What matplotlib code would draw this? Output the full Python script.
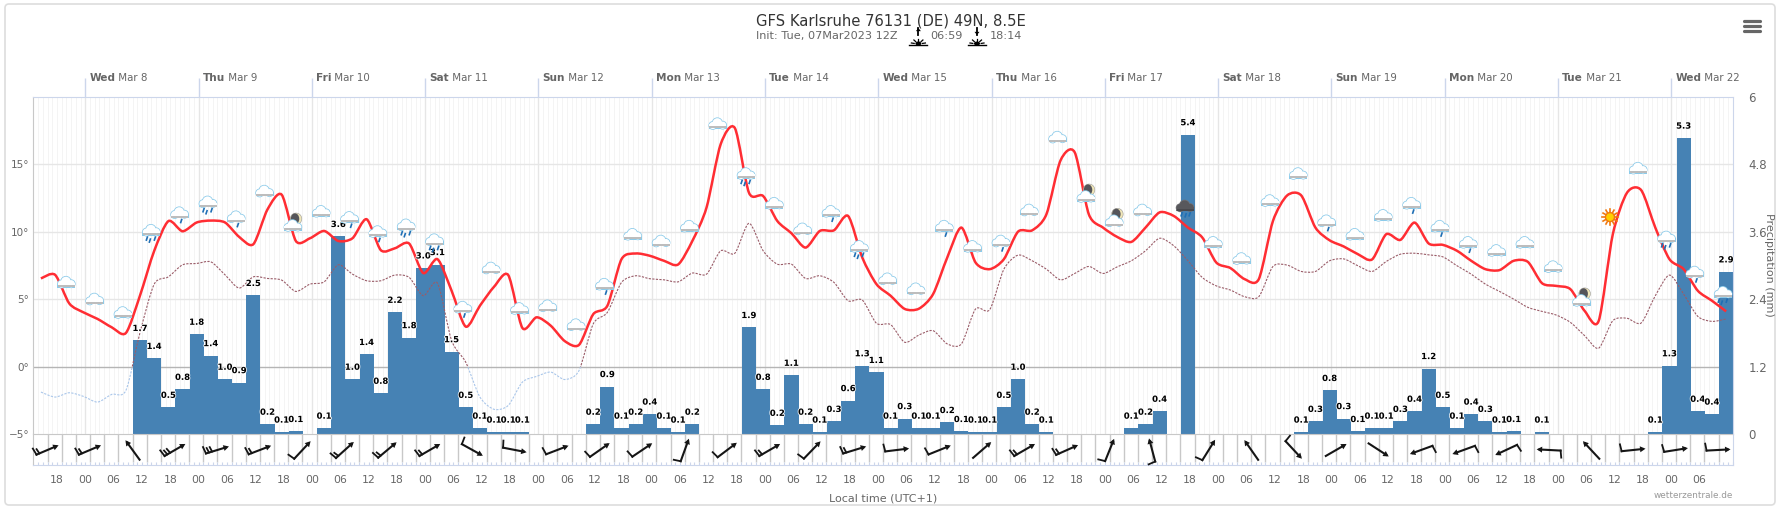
import matplotlib
matplotlib.use("Agg")
import matplotlib.pyplot as plt
import matplotlib.patheffects as pe
import numpy as np
from matplotlib.lines import Line2D
from matplotlib.patches import Circle, Ellipse, FancyBboxPatch, PathPatch, Polygon, Rectangle
from matplotlib.path import Path
from matplotlib.transforms import Affine2D, IdentityTransform

W, H = 1777, 509

# x axis is hours since Wed Mar 8 00:00 local time
XMIN, XMAX = -11.08, 349.06
day_names = ["Wed", "Thu", "Fri", "Sat", "Sun", "Mon", "Tue", "Wed", "Thu", "Fri", "Sat", "Sun", "Mon", "Tue", "Wed"]
day_dates = ["Mar 8", "Mar 9", "Mar 10", "Mar 11", "Mar 12", "Mar 13", "Mar 14", "Mar 15", "Mar 16", "Mar 17",
             "Mar 18", "Mar 19", "Mar 20", "Mar 21", "Mar 22"]
hour_labels = ["18", "00", "06", "12"]

# temperature 2m, every 3h from hour -9.4
temp_2m = [6.55, 6.82, 4.7, 4.04, 3.55, 2.93, 2.51, 5.3, 8.6, 10.8, 10.05, 10.7, 10.84, 10.7, 9.63, 9.09,
           11.67, 12.76, 9.33, 9.53, 10.07, 9.33, 9.53, 10.94, 8.65, 8.79, 9.14, 6.95, 7.98, 5.64, 2.98, 4.53,
           5.94, 6.8, 2.88, 3.67, 3.05, 1.9, 1.63, 3.9, 4.53, 7.98, 8.4, 8.23, 7.86, 7.59, 9.33, 11.8,
           16.5, 17.7, 12.9, 12.66, 10.81, 9.9, 8.84, 10.07, 10.12, 11.18, 8.1, 6.13, 5.27, 4.29, 4.31, 5.39,
           8.1, 10.32, 7.73, 7.24, 7.98, 10.02, 10.12, 11.3, 15.3, 15.9, 11.3, 10.32, 9.63, 9.26, 10.32, 11.45,
           11.18, 10.32, 9.6, 7.73, 7.32, 6.5, 6.5, 10.81, 12.7, 12.7, 10.32, 9.38, 8.92, 8.35, 7.96, 9.83,
           9.41, 10.69, 9.14, 9.04, 8.6, 7.86, 7.24, 7.17, 7.86, 7.78, 6.2, 6.0, 5.76, 4.16, 3.4, 9.83,
           12.9, 13.1, 10.32, 7.98, 7.24, 5.64, 4.9, 4.11]

# temperature 850 hPa, same hours
temp_850 = [-1.87, -2.24, -1.92, -2.19, -2.61, -2.04, -1.75, 2.56, 6.13, 6.67, 7.56, 7.66, 7.78, 6.82, 5.84, 6.67,
            6.55, 6.43, 5.59, 6.13, 6.3, 7.56, 6.87, 6.38, 6.38, 6.8, 6.63, 5.27, 6.2, 1.95, 0.34, -2.24,
            -3.15, -2.86, -1.13, -0.71, -0.39, -0.94, -0.27, 3.18, 4.04, 6.26, 6.75, 6.53, 6.45, 6.3, 6.95, 6.87,
            8.6, 8.42, 10.64, 8.6, 7.61, 7.61, 6.55, 6.75, 6.26, 4.9, 4.95, 3.23, 3.13, 1.82, 2.36, 2.68,
            1.7, 1.7, 4.29, 4.24, 7.24, 8.28, 7.86, 7.24, 6.45, 6.92, 7.44, 6.92, 7.41, 7.86, 8.6, 9.53,
            8.97, 7.86, 6.63, 6.0, 5.69, 5.2, 5.2, 7.44, 7.54, 7.07, 7.07, 7.86, 8.0, 7.49, 7.07, 7.81,
            8.35, 8.42, 8.3, 8.15, 7.49, 6.87, 6.13, 5.59, 5.02, 4.41, 4.11, 3.84, 3.3, 2.32, 1.38, 3.42,
            3.6, 3.25, 5.27, 6.8, 5.39, 3.74, 3.37, 3.55]

# precipitation per 3h, first bar at hour 11.6
precip = [1.67, 1.35, 0.48, 0.80, 1.78, 1.40, 0.98, 0.92, 2.47, 0.18, 0.04, 0.05, 0, 0.11, 3.52, 0.98,
          1.42, 0.73, 2.17, 1.72, 2.96, 3.02, 1.47, 0.48, 0.11, 0.04, 0.04, 0.04, 0, 0, 0, 0,
          0.18, 0.85, 0.11, 0.18, 0.36, 0.11, 0.04, 0.18, 0, 0, 0, 1.90, 0.80, 0.16, 1.05, 0.18,
          0.04, 0.23, 0.60, 1.22, 1.10, 0.11, 0.28, 0.11, 0.11, 0.21, 0.05, 0.04, 0.04, 0.48, 0.98, 0.18,
          0.04, 0, 0, 0, 0, 0, 0.11, 0.18, 0.41, 0, 5.33, 0, 0, 0, 0, 0,
          0, 0, 0.04, 0.23, 0.78, 0.28, 0.05, 0.11, 0.11, 0.23, 0.41, 1.17, 0.48, 0.11, 0.36, 0.23,
          0.04, 0.05, 0, 0.04, 0, 0, 0, 0, 0, 0, 0, 0.04, 1.22, 5.27, 0.41, 0.36, 2.89]
precip_labels = ["1.7", "1.4", "0.5", "0.8", "1.8", "1.4", "1.0", "0.9", "2.5", "0.2", "0.1", "0.1", "", "0.1", "3.6", "1.0",
                 "1.4", "0.8", "2.2", "1.8", "3.0", "3.1", "1.5", "0.5", "0.1", "0.1", "0.1", "0.1", "", "", "", "",
                 "0.2", "0.9", "0.1", "0.2", "0.4", "0.1", "0.1", "0.2", "", "", "", "1.9", "0.8", "0.2", "1.1", "0.2",
                 "0.1", "0.3", "0.6", "1.3", "1.1", "0.1", "0.3", "0.1", "0.1", "0.2", "0.1", "0.1", "0.1", "0.5", "1.0", "0.2",
                 "0.1", "", "", "", "", "", "0.1", "0.2", "0.4", "", "5.4", "", "", "", "", "",
                 "", "", "0.1", "0.3", "0.8", "0.3", "0.1", "0.1", "0.1", "0.3", "0.4", "1.2", "0.5", "0.1", "0.4", "0.3",
                 "0.1", "0.1", "", "0.1", "", "", "", "", "", "", "", "0.1", "1.3", "5.3", "0.4", "0.4", "2.9"]

# weather symbols
icon_hours = list(range(-4, 225, 6)) + list(range(233, 348, 6))
icon_temps = [6.25, 5.0, 4.0, 10.1, 11.4, 12.2, 11.1, 13.0, 10.45, 11.5, 11.05, 10.0, 10.5, 9.4, 4.4, 7.3, 4.3, 4.5, 3.1, 6.1,
              9.8, 9.3, 10.4, 18.0, 14.3, 12.1, 10.2, 11.5, 8.9, 6.5, 5.76, 10.4, 8.9, 9.3, 11.6, 17.0, 12.6, 10.8, 11.6,
              11.9, 9.2, 8.0, 12.3, 14.3, 10.8, 9.8, 11.2, 12.1, 10.4, 9.2, 8.6, 9.2, 7.4, 4.9, 11.1, 14.7, 9.6, 7.0, 5.5]
icon_kinds = ["cloud", "cloud", "cloud", "rain", "light", "rain", "light", "cloud", "moon", "cloud", "light", "light", "rain", "rain",
              "light", "cloud", "cloud", "cloud", "cloud", "light", "cloud", "cloud", "cloud", "cloud", "rain", "cloud", "cloud",
              "light", "rain", "cloud", "cloud", "light", "cloud", "light", "cloud", "cloud", "moon", "moon", "cloud",
              "dark", "cloud", "cloud", "cloud", "cloud", "light", "cloud", "cloud", "light", "light", "light", "cloud", "cloud",
              "cloud", "moon", "sun", "cloud", "rain", "light", "rain"]

# wind row: direction the arrow points (deg, counter clockwise from east) and barb count
wind_hours = list(range(-8, 227, 9)) + list(range(238, 347, 9))
wind_dirs = [23, 23, 126, 30, 17, 21, 47, 42, 40, 30, -29, -11, 21, 35, 34, 70, 37, 30, 46, 17,
             7, 22, 41, 30, 24, 68, 105, 58, 125, -47, 30, -33, 200, 200, 205, 177, 133, 6, 9, 3]
wind_barbs = [2, 2, 0, 3, 3, 2, 1, 2, 2, 2, 1, 1, 1, 1, 1, 1, 1, 2, 1, 2,
              1, 1, 0, 2, 2, 1, 1, 1, 0, 1, 0, 0, 1, 1, 1, 1, 0, 1, 1, 1]

GREY = "#666666"
GRID = "#e6e6e6"
AXIS = "#ccd6eb"
LINE = "#c8c8c8"

plt.rcParams["font.family"] = ["DejaVu Sans"]


def smooth_path(xs, ys):
    # cubic segments through every point, like the spline series of the original
    pts = np.column_stack([xs, ys])
    verts = [pts[0]]
    codes = [Path.MOVETO]
    for i in range(len(pts) - 1):
        p0, p1, p2, p3 = pts[max(i - 1, 0)], pts[i], pts[i + 1], pts[min(i + 2, len(pts) - 1)]
        verts += [p1 + (p2 - p0) / 7.5, p2 - (p3 - p1) / 7.5, p2]
        codes += [Path.CURVE4] * 3
    return Path(verts, codes)


def pixel_transform(ax, x, y):
    return Affine2D().translate(*ax.transData.transform((x, y)))


def draw_cloud(ax, tr, body, rim, band, z):
    parts = [(-5, -1.5, 3.6), (-0.5, 1, 4.8), (4.8, -1.2, 3.6)]
    for cx, cy, r in parts:
        ax.add_patch(Circle((cx, cy), r + 0.8, fc=rim, ec="none", transform=tr, zorder=z, clip_on=False))
    ax.add_patch(Rectangle((-9, -5), 18, 4, fc=rim, ec="none", transform=tr, zorder=z, clip_on=False))
    for cx, cy, r in parts:
        ax.add_patch(Circle((cx, cy), r, fc=body, ec="none", transform=tr, zorder=z, clip_on=False))
    ax.add_patch(Rectangle((-8.5, -3), 17, 2.5, fc=body, ec="none", transform=tr, zorder=z, clip_on=False))
    ax.add_patch(Rectangle((-8.5, -4.5), 17, 2, fc=band, ec="none", transform=tr, zorder=z, clip_on=False))


def draw_drops(ax, tr, offsets, z):
    for dx, dy in offsets:
        ax.add_line(Line2D([dx, dx - 1], [dy + 1.5, dy - 1.5], color="#1f6fb5", lw=1.2, transform=tr, zorder=z, clip_on=False))


def draw_icon(ax, hour, temp, kind):
    tr = pixel_transform(ax, hour, temp)
    z = 6
    if kind == "sun":
        for a in np.arange(0, 360, 30):
            c, s = np.cos(np.radians(a)), np.sin(np.radians(a))
            ax.add_line(Line2D([4 * c, 8 * c], [4 * s, 8 * s], color="#f07a10", lw=1.2, transform=tr, zorder=z, clip_on=False))
        ax.add_patch(Circle((0, 0), 4.5, fc="#ffd000", ec="#f07a10", lw=1, transform=tr, zorder=z, clip_on=False))
        return
    if kind == "moon":
        ax.add_patch(Circle((3, 7), 5.8, fc="#f1e7b8", ec="#999999", lw=0.4, transform=tr, zorder=z, clip_on=False))
        ax.add_patch(Ellipse((2, 7), 8.5, 11, fc="#55555a", ec="none", transform=tr, zorder=z, clip_on=False))
    if kind == "dark":
        draw_cloud(ax, tr, "#58585c", "#707074", "#49494d", z)
        draw_drops(ax, tr, [(-3, -8), (1, -9), (5, -8)], z)
        return
    draw_cloud(ax, tr, "white", "#8ccbea", "#bdbdbd", z)
    if kind == "light":
        draw_drops(ax, tr, [(2, -8)], z)
    if kind == "rain":
        draw_drops(ax, tr, [(-4, -8), (4, -8), (-1, -10)], z)


def draw_wind(ax, hour, angle, barbs):
    tr = Affine2D().rotate_deg(angle) + pixel_transform(ax, hour, 0.49)
    ax.add_line(Line2D([-12, 9], [0, 0], color="#151515", lw=1.5, transform=tr, zorder=4, clip_on=False))
    ax.add_patch(Polygon([[12, 0], [6.5, 3], [6.5, -3]], fc="#151515", ec="none", transform=tr, zorder=4, clip_on=False))
    for i in range(barbs):
        base = -12 + i * 3.2
        tip = 7 if i == 0 else 5
        ax.add_line(Line2D([base, base - 1], [0, tip], color="#151515", lw=1.3, transform=tr, zorder=4, clip_on=False))


def draw_sun_mark(x, up):
    # sunrise/sunset glyph in the subtitle, y measured from the top of the image
    tr = IdentityTransform()
    base = H - 45
    fig.add_artist(Line2D([x - 9, x + 9], [base, base], color="black", lw=1, transform=tr))
    for dx, dy in [(-7, 1), (-4.5, 4), (0, 5.5), (4.5, 4), (7, 1)]:
        fig.add_artist(Line2D([x + dx * 0.6, x + dx], [base + 1 + dy * 0.6, base + 1 + dy], color="black", lw=0.9, transform=tr))
    fig.add_artist(Ellipse((x, base + 1.5), 6, 4, fc="black", ec="none", transform=tr))
    tip, tail = (H - 28, H - 35) if up else (H - 35, H - 28)
    fig.add_artist(Line2D([x, x], [H - 28, H - 35], color="black", lw=1.3, transform=tr))
    fig.add_artist(Polygon([[x, tip], [x - 2.5, tip + (tail - tip) * 0.45], [x + 2.5, tip + (tail - tip) * 0.45]],
                           fc="black", ec="none", transform=tr))


fig = plt.figure(figsize=(W / 100, H / 100), dpi=100, facecolor="white")

card = FancyBboxPatch((5, H - 505), 1770, 501, boxstyle="round,pad=0,rounding_size=4", fc="white", ec="#dddddd", lw=1.2,
                      transform=IdentityTransform())
fig.add_artist(card)

rect = [33 / W, 1 - 434.3 / H, 1700 / W, 337.3 / H]
ax_rain = fig.add_axes(rect, zorder=1)
ax_temp = fig.add_axes(rect, zorder=2)
ax_temp.patch.set_visible(False)
ax_wind = fig.add_axes([33 / W, 1 - 465 / H, 1700 / W, 30.7 / H], zorder=1)
ax_wind.patch.set_visible(False)

for a in (ax_rain, ax_temp, ax_wind):
    a.set_xlim(XMIN, XMAX)
ax_rain.set_ylim(0, 6)
ax_temp.set_ylim(-5, 20)
ax_wind.set_ylim(0, 1)

# precipitation axes carries grid and bars so the lines stay above the bars
ax_rain.yaxis.tick_right()
ax_rain.set_yticks([0, 1.2, 2.4, 3.6, 4.8, 6], labels=["0", "1.2", "2.4", "3.6", "4.8", "6"])
ax_rain.tick_params(axis="y", length=0, pad=11, labelsize=8.5, labelcolor=GREY)
ax_rain.set_xticks(np.arange(0, 337, 24), labels=[])
ax_rain.tick_params(axis="x", top=True, bottom=False, length=14, width=1, color=AXIS)
ax_rain.vlines(np.arange(-11, 350, 1), 0, 6, color="#f4f4f4", lw=0.7, zorder=0)
ax_rain.vlines(np.arange(0, 337, 24), 0, 6, color=GRID, lw=1, zorder=0.5)
ax_rain.hlines([2.4, 3.6, 4.8], XMIN, XMAX, color=GRID, lw=1, zorder=0.5)
ax_rain.hlines(1.2, XMIN, XMAX, color="#b5b5b5", lw=1, zorder=0.6)
bar_hours = 11.6 + 3 * np.arange(len(precip))
ax_rain.bar(bar_hours, precip, width=3, color="#4682b4", zorder=2)
for side, color in [("top", AXIS), ("left", LINE), ("right", AXIS), ("bottom", LINE)]:
    ax_rain.spines[side].set_color(color)

# temperature axes
ax_temp.set_xticks([])
ax_temp.set_yticks([-5, 0, 5, 10, 15], labels=["−5°", "0°", "5°", "10°", "15°"])
ax_temp.tick_params(axis="y", length=0, pad=2.5, labelsize=7.5, labelcolor=GREY)
for spine in ax_temp.spines.values():
    spine.set_visible(False)

line_hours = -9.4 + 3 * np.arange(len(temp_2m))
path_850 = smooth_path(line_hours, temp_850)
warm = PathPatch(path_850, fill=False, ec="#9a5c68", lw=0.8, ls=(0, (2, 1.2)), zorder=3)
cold = PathPatch(path_850, fill=False, ec="#a9c6ea", lw=0.8, ls=(0, (2, 1.2)), zorder=3)
ax_temp.add_patch(warm)
ax_temp.add_patch(cold)
warm.set_clip_path(Rectangle((XMIN, 0), XMAX - XMIN, 20, transform=ax_temp.transData))
cold.set_clip_path(Rectangle((XMIN, -5), XMAX - XMIN, 5, transform=ax_temp.transData))
ax_temp.add_patch(PathPatch(smooth_path(line_hours, temp_2m), fill=False, ec="#ff2d33", lw=1.8, zorder=4))

stroke = [pe.withStroke(linewidth=1.3, foreground="white", alpha=0.8)]
for hour, value, label in zip(bar_hours, precip, precip_labels):
    if label:
        ax_temp.annotate(label, xy=(hour, value), xycoords=ax_rain.transData, xytext=(0, 8.6), textcoords="offset points",
                         ha="center", va="center", fontsize=6.1, fontweight="bold", color="black",
                         path_effects=stroke, zorder=5)

for hour, temp, kind in zip(icon_hours, icon_temps, icon_kinds):
    draw_icon(ax_temp, hour, temp, kind)

# wind row
ax_wind.set_yticks([])
ax_wind.vlines(np.arange(-8, 349, 3), 0.1, 1, color=LINE, lw=1, zorder=1)
for hour, angle, barbs in zip(wind_hours, wind_dirs, wind_barbs):
    draw_wind(ax_wind, hour, angle, barbs)
hour_ticks = np.arange(-6, 343, 6)
ax_wind.set_xticks(hour_ticks, labels=[hour_labels[i % 4] for i in range(len(hour_ticks))])
ax_wind.set_xticks(np.arange(-11, 350, 1), minor=True)
ax_wind.tick_params(axis="x", which="both", direction="in", length=2, width=0.8, color=AXIS)
ax_wind.tick_params(axis="x", which="major", pad=7.5, labelsize=7.8, labelcolor=GREY)
ax_wind.spines["top"].set_visible(False)
ax_wind.spines["left"].set_color(LINE)
ax_wind.spines["right"].set_color(AXIS)
ax_wind.spines["bottom"].set_color(AXIS)

# day labels above the plot
for i, (name, date) in enumerate(zip(day_names, day_dates)):
    bold = ax_rain.annotate(name, xy=(24 * i, 1), xycoords=("data", "axes fraction"), xytext=(2.8, 13.8),
                            textcoords="offset points", ha="left", va="center", fontsize=7.6, fontweight="bold", color=GREY)
    ax_rain.annotate(" " + date, xy=(1, 0), xycoords=bold, ha="left", va="bottom", fontsize=7.4, color=GREY)

fig.text(890.5 / W, 1 - 21.5 / H, "GFS Karlsruhe 76131 (DE) 49N, 8.5E", ha="center", va="center", fontsize=10.6, color="#333333")
fig.text(756 / W, 1 - 36 / H, "Init: Tue, 07Mar2023 12Z", ha="left", va="center", fontsize=8.1, color=GREY)
fig.text(930.5 / W, 1 - 36 / H, "06:59", ha="left", va="center", fontsize=8.1, color=GREY)
fig.text(990 / W, 1 - 36 / H, "18:14", ha="left", va="center", fontsize=8.1, color=GREY)
draw_sun_mark(918.4, True)
draw_sun_mark(977, False)

fig.text(883 / W, 1 - 498.5 / H, "Local time (UTC+1)", ha="center", va="center", fontsize=8, color=GREY)
fig.text(1732.5 / W, 1 - 495.5 / H, "wetterzentrale.de", ha="right", va="center", fontsize=6.4, color="#999999")
fig.text(1769 / W, 1 - 265 / H, "Precipitation (mm)", ha="center", va="center", rotation=270, fontsize=8, color=GREY)

# context menu button
for y in (21, 26, 31):
    fig.add_artist(Line2D([1744, 1760], [H - y, H - y], color=GREY, lw=2.3, solid_capstyle="round", transform=IdentityTransform()))

fig.savefig("out.png", dpi=100, facecolor="white")
